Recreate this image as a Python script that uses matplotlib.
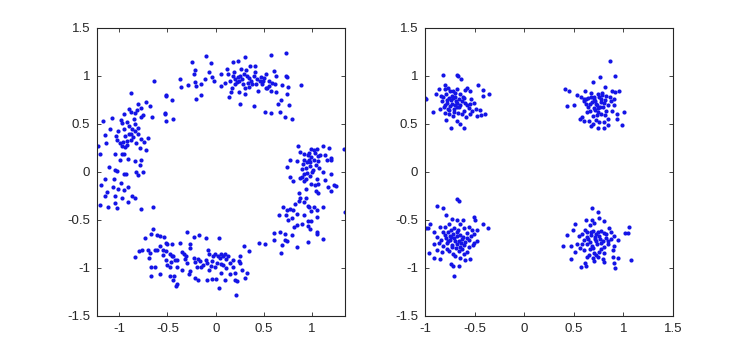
import numpy as np
import matplotlib
matplotlib.use('Agg')
import matplotlib.pyplot as plt

# left panel: constellation with phase rotation (four arcs on the unit ring)
ring_top = [
    (-0.10, 1.21), (-0.25, 1.15), (-0.05, 1.14), (0.18, 1.15), (0.23, 1.16), (0.30, 1.20),
    (0.57, 1.22), (0.73, 1.24), (-0.64, 0.95), (-0.37, 0.97), (-0.36, 0.89), (-0.29, 0.91),
    (-0.22, 1.02), (-0.21, 1.06), (-0.21, 0.94), (-0.20, 0.90), (-0.15, 0.92), (-0.11, 0.97),
    (-0.07, 1.04), (-0.04, 0.99), (-0.02, 0.95), (0.05, 1.02), (0.05, 0.90), (0.12, 1.07),
    (0.13, 1.02), (0.15, 0.95), (0.17, 0.87), (0.16, 0.83), (0.19, 1.04), (0.20, 0.92),
    (0.23, 0.99), (0.24, 0.95), (0.24, 0.83), (0.26, 1.07), (0.28, 0.92), (0.29, 1.02),
    (0.30, 0.81), (0.25, 0.71), (0.14, 0.78), (0.31, 1.06), (0.35, 0.98), (0.36, 1.10),
    (0.37, 0.95), (0.41, 1.10), (0.41, 1.04), (0.42, 0.92), (0.44, 0.84), (0.47, 0.99),
    (0.48, 0.92), (0.50, 0.98), (0.52, 1.02), (0.53, 0.88), (0.55, 0.95), (0.57, 0.84),
    (0.60, 1.05), (0.61, 0.92), (0.62, 1.00), (0.63, 0.83), (0.65, 0.71), (0.67, 0.63),
    (0.68, 0.75), (0.69, 0.91), (0.73, 1.00), (0.74, 0.81), (0.76, 0.70), (0.75, 0.89),
    (0.74, 0.99), (0.72, 0.57), (0.79, 0.55), (0.51, 0.63), (0.57, 0.61), (0.40, 0.69),
    (-0.20, 0.76), (-0.15, 0.80), (-0.51, 0.80), (-0.45, 0.75), (-0.53, 0.61), (-0.44, 0.55),
    (0.88, 0.91), (0.20, 0.97), (0.25, 1.00), (0.33, 0.93), (0.46, 0.95), (0.55, 0.90),
    (0.10, 0.93), (0.30, 0.88), (0.40, 1.00), (0.22, 0.94), (0.27, 0.97), (0.32, 1.00),
    (0.38, 0.92), (0.43, 0.97), (0.49, 0.95), (0.52, 0.87), (0.18, 1.00), (0.35, 0.89),
    (0.58, 0.93),
]
ring_left = [
    (-0.88, 0.82), (-0.51, 0.79), (-0.72, 0.73), (-0.68, 0.69), (-0.80, 0.71), (-0.90, 0.66),
    (-0.82, 0.65), (-0.77, 0.67), (-0.84, 0.61), (-0.95, 0.60), (-0.75, 0.59), (-0.77, 0.57),
    (-0.66, 0.57), (-0.53, 0.60), (-0.51, 0.53), (-1.07, 0.56), (-1.17, 0.53), (-0.98, 0.54),
    (-0.97, 0.51), (-0.92, 0.52), (-0.90, 0.48), (-0.84, 0.50), (-0.81, 0.46), (-0.84, 0.43),
    (-0.88, 0.40), (-0.94, 0.38), (-1.01, 0.43), (-1.10, 0.45), (-1.15, 0.39), (-1.03, 0.38),
    (-1.02, 0.33), (-0.99, 0.30), (-0.96, 0.31), (-0.92, 0.32), (-0.88, 0.33), (-0.97, 0.27),
    (-0.94, 0.26), (-0.77, 0.34), (-0.74, 0.31), (-0.70, 0.35), (-0.72, 0.23), (-1.22, 0.27),
    (-1.20, 0.19), (-1.14, 0.30), (-1.04, 0.19), (-0.97, 0.19), (-0.95, 0.19), (-0.91, 0.14),
    (-0.99, 0.12), (-0.84, 0.11), (-0.77, 0.12), (-0.78, 0.07), (-1.11, 0.05), (-1.04, 0.02),
    (-1.02, 0.01), (-0.95, -0.02), (-0.93, -0.02), (-0.83, 0.00), (-0.80, -0.03), (-0.75, 0.00),
    (-1.15, -0.07), (-1.19, -0.14), (-1.05, -0.07), (-0.98, -0.11), (-1.06, -0.16), (-1.01, -0.18),
    (-0.95, -0.19), (-0.91, -0.16), (-1.13, -0.21), (-1.15, -0.25), (-1.04, -0.25), (-0.97, -0.27),
    (-0.87, -0.25), (-0.91, -0.31), (-1.04, -0.32), (-1.12, -0.36), (-1.02, -0.37), (-1.20, -0.34),
    (-0.84, -0.27), (-0.77, -0.39), (-0.65, -0.36), (-0.86, 0.36), (-0.83, 0.30), (-0.90, 0.40),
    (-0.87, 0.45), (-0.80, 0.40), (-0.92, 0.28), (-0.78, 0.25), (-0.95, 0.45), (-0.85, 0.55),
    (-0.88, 0.62),
]
ring_bottom = [
    (-0.65, -0.59), (-0.30, -0.62), (-0.67, -0.65), (-0.61, -0.66), (-0.58, -0.67), (-0.73, -0.69),
    (-0.54, -0.68), (-0.17, -0.66), (-0.22, -0.68), (0.03, -0.69), (-0.10, -0.69), (-0.52, -0.74),
    (-0.50, -0.75), (-0.45, -0.75), (-0.37, -0.74), (-0.27, -0.75), (-0.27, -0.79), (-0.58, -0.77),
    (0.29, -0.77), (0.34, -0.82), (-0.79, -0.82), (-0.76, -0.81), (-0.70, -0.81), (-0.68, -0.84),
    (-0.63, -0.81), (-0.61, -0.81), (-0.55, -0.81), (-0.51, -0.82), (-0.47, -0.85), (-0.44, -0.87),
    (-0.35, -0.83), (-0.33, -0.85), (-0.31, -0.88), (-0.84, -0.89), (-0.69, -0.90), (-0.51, -0.92),
    (-0.42, -0.92), (-0.46, -0.94), (-0.50, -0.97), (-0.47, -0.99), (-0.40, -0.99), (-0.67, -0.99),
    (-0.63, -0.99), (-0.32, -0.91), (-0.23, -0.90), (-0.18, -0.91), (-0.21, -0.94), (-0.16, -0.93),
    (-0.08, -0.81), (-0.07, -0.85), (-0.03, -0.88), (-0.01, -0.85), (0.02, -0.88), (0.05, -0.85),
    (0.10, -0.85), (0.13, -0.87), (0.04, -0.90), (0.11, -0.91), (0.18, -0.92), (0.24, -0.93),
    (0.25, -0.95), (-0.13, -0.97), (-0.09, -0.95), (-0.04, -0.93), (0.01, -0.95), (-0.01, -0.99),
    (-0.07, -1.02), (-0.15, -0.99), (-0.19, -0.99), (0.08, -0.97), (0.11, -1.00), (0.18, -0.99),
    (0.27, -1.02), (0.32, -1.05), (0.20, -1.05), (0.15, -1.06), (0.06, -1.05), (0.00, -1.11),
    (-0.04, -1.11), (-0.09, -1.12), (-0.18, -1.12), (-0.21, -1.10), (-0.27, -1.03), (-0.28, -1.06),
    (-0.35, -1.02), (-0.43, -1.08), (-0.47, -1.08), (-0.58, -1.06), (-0.67, -1.08), (-0.44, -1.13),
    (-0.40, -1.17), (-0.41, -1.19), (0.10, -1.12), (0.20, -1.12), (0.22, -1.14), (0.03, -1.21),
    (0.21, -1.28), (0.30, -1.10), (-0.45, -0.88), (-0.40, -0.92), (-0.10, -0.92), (-0.05, -0.98),
    (0.05, -0.96), (0.15, -0.95), (-0.55, -0.86), (0.08, -0.88), (-0.30, -0.95), (0.25, -0.88),
]
ring_right = [
    (0.85, 0.27), (0.99, 0.24), (1.02, 0.23), (1.05, 0.24), (1.11, 0.27), (1.17, 0.25),
    (0.87, 0.21), (1.33, 0.24), (0.91, 0.19), (0.96, 0.18), (0.99, 0.16), (1.03, 0.20),
    (1.06, 0.17), (1.13, 0.18), (1.19, 0.15), (0.77, 0.13), (0.84, 0.11), (0.91, 0.13),
    (0.97, 0.13), (0.98, 0.10), (1.06, 0.11), (1.15, 0.13), (1.19, 0.12), (0.74, 0.05),
    (0.89, 0.03), (0.94, 0.04), (0.98, 0.06), (1.04, 0.07), (1.07, 0.04), (0.95, -0.01),
    (1.01, 0.02), (1.11, 0.00), (1.19, -0.02), (0.77, -0.05), (0.80, -0.09), (0.87, -0.06),
    (0.89, -0.05), (0.91, -0.09), (0.94, -0.07), (0.98, -0.04), (1.05, -0.07), (1.13, -0.08),
    (0.99, -0.12), (1.03, -0.14), (1.06, -0.13), (1.16, -0.16), (1.23, -0.14), (1.25, -0.15),
    (1.19, -0.20), (0.94, -0.18), (1.04, -0.20), (1.06, -0.22), (0.86, -0.22), (0.87, -0.27),
    (0.94, -0.27), (0.91, -0.31), (0.82, -0.33), (0.96, -0.35), (0.97, -0.36), (1.02, -0.36),
    (1.11, -0.36), (1.05, -0.40), (0.99, -0.41), (0.70, -0.36), (0.74, -0.40), (0.77, -0.39),
    (0.66, -0.45), (0.73, -0.45), (0.84, -0.44), (0.79, -0.48), (0.75, -0.50), (1.05, -0.47),
    (0.99, -0.51), (0.96, -0.51), (0.96, -0.56), (0.98, -0.59), (0.84, -0.55), (0.81, -0.57),
    (0.89, -0.54), (1.34, -0.42), (1.05, -0.63), (1.05, -0.65), (1.11, -0.70), (0.96, -0.73),
    (0.79, -0.66), (0.72, -0.65), (0.60, -0.64), (0.67, -0.63), (0.72, -0.71), (0.74, -0.72),
    (0.60, -0.71), (0.69, -0.76), (0.84, -0.78), (0.45, -0.74), (0.51, -0.75), (0.68, -0.84),
    (0.95, 0.10), (1.00, 0.00), (0.92, -0.02), (1.02, 0.12), (0.97, 0.20), (0.90, 0.08),
    (0.86, -0.30), (0.80, -0.40), (0.92, -0.45), (1.08, 0.18),
]

# right panel: the same symbols without phase rotation
qpsk_ul = [
    (-0.82, 1.01), (-0.68, 1.01), (-0.67, 1.00), (-0.64, 0.97), (-0.80, 0.91), (-0.89, 0.81),
    (-0.99, 0.76), (-0.86, 0.86), (-0.80, 0.86), (-0.77, 0.88), (-0.72, 0.84), (-0.68, 0.86),
    (-0.60, 0.85), (-0.58, 0.87), (-0.55, 0.84), (-0.47, 0.91), (-0.42, 0.85), (-0.36, 0.81),
    (-0.42, 0.79), (-0.82, 0.78), (-0.79, 0.81), (-0.76, 0.77), (-0.73, 0.79), (-0.70, 0.78),
    (-0.65, 0.81), (-0.61, 0.77), (-0.54, 0.76), (-0.78, 0.72), (-0.73, 0.71), (-0.68, 0.72),
    (-0.65, 0.70), (-0.60, 0.72), (-0.55, 0.71), (-0.51, 0.72), (-0.81, 0.68), (-0.76, 0.65),
    (-0.85, 0.66), (-0.71, 0.66), (-0.68, 0.68), (-0.61, 0.64), (-0.56, 0.67), (-0.53, 0.64),
    (-0.49, 0.66), (-0.45, 0.65), (-0.92, 0.63), (-0.80, 0.61), (-0.76, 0.60), (-0.72, 0.58),
    (-0.67, 0.61), (-0.63, 0.60), (-0.59, 0.57), (-0.55, 0.60), (-0.48, 0.58), (-0.44, 0.59),
    (-0.40, 0.60), (-0.79, 0.54), (-0.68, 0.53), (-0.65, 0.50), (-0.74, 0.46), (-0.61, 0.46),
    (-1.00, 0.77), (-0.74, 0.75), (-0.70, 0.70), (-0.63, 0.74), (-0.78, 0.75), (-0.72, 0.77),
    (-0.69, 0.74), (-0.75, 0.69), (-0.80, 0.70), (-0.66, 0.68), (-0.71, 0.63), (-0.77, 0.66),
    (-0.83, 0.74), (-0.62, 0.78), (-0.70, 0.82), (-0.75, 0.84), (-0.58, 0.70), (-0.84, 0.79),
    (-0.66, 0.76),
]
qpsk_ur = [
    (0.86, 1.16), (0.91, 1.00), (0.76, 0.99), (0.69, 0.94), (0.81, 0.89), (0.41, 0.86),
    (0.45, 0.84), (0.53, 0.80), (0.61, 0.84), (0.67, 0.82), (0.74, 0.81), (0.78, 0.82),
    (0.82, 0.79), (0.88, 0.84), (0.92, 0.83), (0.96, 0.84), (0.57, 0.78), (0.60, 0.76),
    (0.64, 0.77), (0.70, 0.76), (0.75, 0.78), (0.77, 0.73), (0.72, 0.71), (0.66, 0.71),
    (0.62, 0.71), (0.60, 0.74), (0.81, 0.75), (0.87, 0.74), (0.90, 0.76), (0.43, 0.69),
    (0.50, 0.70), (0.70, 0.67), (0.74, 0.67), (0.79, 0.68), (0.82, 0.64), (0.90, 0.70),
    (0.88, 0.64), (0.63, 0.63), (0.66, 0.64), (0.74, 0.62), (0.77, 0.60), (0.81, 0.59),
    (1.01, 0.63), (0.94, 0.60), (0.58, 0.57), (0.56, 0.55), (0.60, 0.53), (0.65, 0.53),
    (0.69, 0.50), (0.72, 0.54), (0.75, 0.52), (0.80, 0.52), (0.84, 0.55), (0.84, 0.49),
    (0.94, 0.55), (0.99, 0.49), (0.74, 0.46), (0.80, 0.46), (0.67, 0.48), (0.71, 0.74),
    (0.70, 0.78), (0.73, 0.70), (0.77, 0.76), (0.68, 0.73), (0.76, 0.68), (0.80, 0.72),
    (0.64, 0.68), (0.71, 0.65), (0.84, 0.70), (0.78, 0.80), (0.67, 0.78), (0.73, 0.59),
    (0.86, 0.78), (0.62, 0.76), (0.69, 0.58),
]
qpsk_ll = [
    (-0.68, -0.28), (-0.66, -0.30), (-0.88, -0.35), (-0.82, -0.37), (-0.79, -0.45), (-0.73, -0.49),
    (-0.68, -0.50), (-0.62, -0.50), (-0.51, -0.47), (-0.50, -0.50), (-0.42, -0.54), (-0.37, -0.58),
    (-0.95, -0.54), (-0.97, -0.58), (-0.91, -0.62), (-0.85, -0.57), (-0.80, -0.57), (-0.76, -0.54),
    (-0.71, -0.58), (-0.65, -0.54), (-0.61, -0.58), (-0.56, -0.57), (-0.53, -0.60), (-0.48, -0.60),
    (-0.82, -0.63), (-0.77, -0.62), (-0.72, -0.65), (-0.68, -0.62), (-0.65, -0.66), (-0.58, -0.64),
    (-0.54, -0.67), (-0.51, -0.65), (-0.88, -0.68), (-0.84, -0.71), (-0.79, -0.69), (-0.75, -0.71),
    (-0.71, -0.69), (-0.66, -0.72), (-0.63, -0.70), (-0.60, -0.73), (-0.56, -0.71), (-0.51, -0.74),
    (-0.48, -0.72), (-0.91, -0.75), (-0.82, -0.77), (-0.78, -0.74), (-0.73, -0.76), (-0.68, -0.75),
    (-0.65, -0.78), (-0.61, -0.76), (-0.56, -0.78), (-0.52, -0.76), (-0.96, -0.84), (-0.88, -0.81),
    (-0.83, -0.83), (-0.76, -0.82), (-0.72, -0.85), (-0.66, -0.82), (-0.61, -0.85), (-0.58, -0.83),
    (-0.91, -0.90), (-0.85, -0.91), (-0.65, -0.90), (-0.60, -0.92), (-0.55, -0.91), (-0.74, -0.96),
    (-0.72, -0.98), (-0.66, -0.98), (-0.71, -1.08), (-0.99, -0.58), (-0.74, -0.68), (-0.69, -0.79),
    (-0.70, -0.72), (-0.75, -0.67), (-0.68, -0.67), (-0.77, -0.72), (-0.64, -0.74), (-0.73, -0.78),
    (-0.80, -0.66), (-0.62, -0.68), (-0.67, -0.60), (-0.86, -0.74), (-0.58, -0.69), (-0.70, -0.88),
    (-0.78, -0.80), (-0.63, -0.80), (-0.74, -0.60),
]
qpsk_lr = [
    (0.68, -0.37), (0.74, -0.42), (0.62, -0.50), (0.68, -0.50), (0.75, -0.48), (0.80, -0.51),
    (0.51, -0.54), (0.66, -0.55), (0.70, -0.53), (1.06, -0.57), (0.85, -0.58), (0.49, -0.60),
    (0.61, -0.60), (0.63, -0.62), (0.69, -0.61), (0.74, -0.62), (0.77, -0.61), (0.80, -0.64),
    (0.87, -0.62), (0.90, -0.67), (1.02, -0.64), (1.05, -0.64), (0.43, -0.66), (0.55, -0.67),
    (0.58, -0.65), (0.63, -0.68), (0.67, -0.66), (0.71, -0.68), (0.75, -0.67), (0.82, -0.69),
    (0.87, -0.70), (0.95, -0.71), (0.39, -0.77), (0.47, -0.77), (0.53, -0.75), (0.58, -0.75),
    (0.63, -0.75), (0.68, -0.77), (0.73, -0.75), (0.77, -0.74), (0.80, -0.78), (0.84, -0.75),
    (0.90, -0.77), (0.51, -0.83), (0.60, -0.81), (0.66, -0.80), (0.70, -0.84), (0.75, -0.83),
    (0.80, -0.84), (0.89, -0.81), (0.63, -0.89), (0.69, -0.90), (0.74, -0.89), (0.79, -0.91),
    (0.89, -0.89), (0.95, -0.90), (0.47, -0.91), (0.61, -0.95), (0.70, -0.93), (0.80, -0.94),
    (0.90, -0.95), (1.08, -0.92), (0.57, -0.99), (0.62, -0.98), (0.92, -1.00), (0.72, -0.72),
    (0.71, -0.70), (0.66, -0.73), (0.76, -0.70), (0.69, -0.79), (0.64, -0.70), (0.79, -0.72),
    (0.72, -0.65), (0.67, -0.63), (0.77, -0.80), (0.60, -0.71), (0.84, -0.72), (0.72, -0.86),
    (0.56, -0.79), (0.65, -0.86), (0.82, -0.65),
]

left_xlim = (-1.23, 1.34)
right_xlim = (-1, 1.5)
ylim = (-1.5, 1.5)
left_xticks = [-1, -0.5, 0, 0.5, 1]
right_xticks = [-1, -0.5, 0, 0.5, 1, 1.5]
yticks = [-1.5, -1, -0.5, 0, 0.5, 1, 1.5]

dot_color = '#1414e6'
axis_color = '#262626'

plt.rcParams['font.family'] = ['Liberation Sans', 'DejaVu Sans']

fig = plt.figure(figsize=(7.45, 3.56), dpi=100)
ax1 = fig.add_axes([0.1302, 0.1124, 0.3329, 0.809])
ax2 = fig.add_axes([0.5705, 0.1124, 0.3329, 0.809])


def scatter_clusters(ax, clusters, xlim, xticks):
    for pts in clusters:
        pts = np.array(pts)
        ax.scatter(pts[:, 0], pts[:, 1], s=9, color=dot_color, linewidths=0, zorder=2)
    ax.set_xlim(xlim)
    ax.set_ylim(ylim)
    ax.set_xticks(xticks)
    ax.set_yticks(yticks)
    ax.set_xticklabels(['%g' % v for v in xticks])
    ax.set_yticklabels(['%g' % v for v in yticks])
    ax.tick_params(direction='in', length=3, width=0.6, top=True, right=True,
                   colors=axis_color, labelsize=9.5, pad=5)
    for sp in ax.spines.values():
        sp.set_color(axis_color)
        sp.set_linewidth(0.8)


scatter_clusters(ax1, [ring_top, ring_left, ring_bottom, ring_right], left_xlim, left_xticks)
scatter_clusters(ax2, [qpsk_ul, qpsk_ur, qpsk_ll, qpsk_lr], right_xlim, right_xticks)

fig.savefig('out.png', dpi=100)
